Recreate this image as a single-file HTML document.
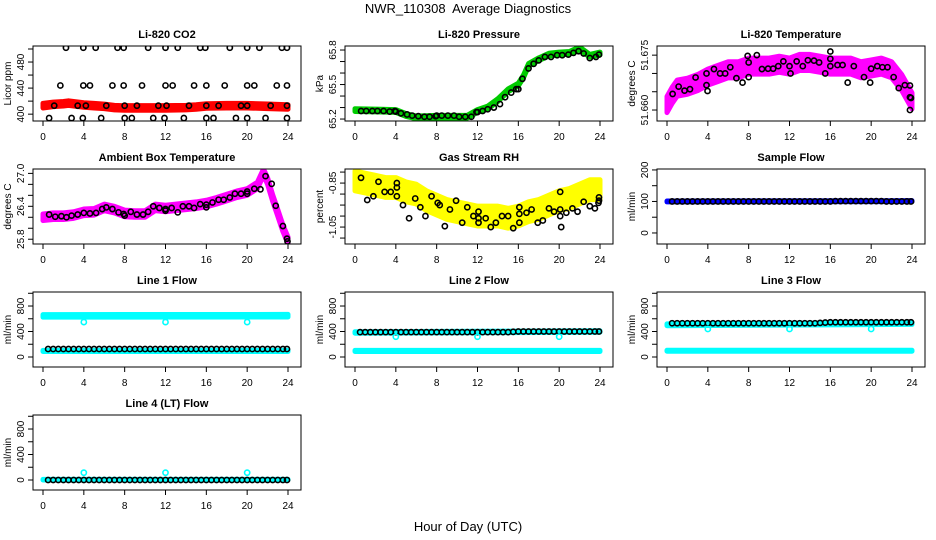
<!DOCTYPE html>
<html><head><meta charset="utf-8"><style>
html,body{margin:0;padding:0;background:#fff;}
svg{display:block;font-family:"Liberation Sans",Arial,sans-serif;}
</style></head><body>
<svg id="chart" width="936" height="540" viewBox="0 0 936 540">
<rect width="936" height="540" fill="#fff"/>
<text x="468" y="13" font-size="13" text-anchor="middle">NWR_110308&#160; Average Diagnostics</text>
<text x="468" y="531" font-size="13" text-anchor="middle">Hour of Day (UTC)</text>
</svg>
<script>
// ---------- data ----------
const co2BandHours=[0,1,2,2.5,3,4,5,6,7,8,10,12,14,15,16,18,20,22,24];
const co2BandVals=[413,415,416,417,416,414,413,412,410,409.5,409.5,409.5,410,411,412.5,413,413,412,411];
const co2PtHours=[2.25,3.95,5.16,7.3,7.9,10.3,12.0,13.2,15.4,15.9,18.3,20.0,21.2,23.4,23.9,
 1.7,3.95,4.6,6.8,7.9,9.7,12.0,12.7,14.8,16.0,17.8,20.0,20.7,22.9,23.9,
 1.1,3.4,4.2,6.2,8.0,9.2,11.3,12.1,14.3,16.0,17.2,19.4,20.0,22.3,23.9,
 0.6,2.8,3.9,5.7,8.0,8.7,10.8,11.9,13.8,16.0,16.7,18.9,20.0,21.8,23.9];
const co2PtVals=[502,502,502,502,502,502,502,502,502,502,502,502,502,502,502,
 444,444,444,444,444,444,444,444,444,444,444,444,444,444,444,
 413,413,413,413,413,413,413,413,413,413,413,413,413,413,413,
 394,394,394,394,394,394,394,394,394,394,394,394,394,394,394];

const presBandHours=[0,4,5,6,8,11,12,13,14,15,16,16.5,17,18,19,20,21,22,23,24];
const presBandVals=[65.278,65.27,65.235,65.215,65.22,65.22,65.27,65.3,65.365,65.45,65.5,65.57,65.67,65.72,65.76,65.77,65.775,65.815,65.75,65.77];
const presPtHours=[0.6,1.1,1.7,2.2,2.8,3.4,3.9,4.0,4.5,5.1,5.6,6.2,6.8,7.3,7.9,8.0,8.5,9.1,9.7,10.2,10.8,11.4,11.9,12.0,12.5,13,13.6,14.2,14.7,15.3,15.8,16,16.4,17,17.5,18,18.6,19.2,19.8,20.3,20.9,21.4,21.9,22.4,23,23.6,23.9];
const presPtVals=[65.27,65.27,65.27,65.27,65.27,65.265,65.27,65.265,65.25,65.24,65.23,65.225,65.22,65.22,65.225,65.23,65.23,65.23,65.23,65.22,65.22,65.22,65.26,65.26,65.27,65.285,65.3,65.33,65.39,65.43,65.46,65.46,65.55,65.64,65.68,65.71,65.74,65.74,65.755,65.755,65.76,65.775,65.79,65.77,65.73,65.74,65.76];

const tempBandHours=[0,0.5,1,2,3,4,5,6,7,8,9,10,11,12,13,14,15,16,17,18,19,20,21,22,23,23.5,24];
const tempBandVals=[51.6615,51.664,51.666,51.6665,51.6675,51.669,51.670,51.671,51.671,51.672,51.672,51.672,51.6725,51.672,51.673,51.673,51.6725,51.672,51.672,51.672,51.671,51.6715,51.672,51.671,51.6675,51.665,51.6625];
const tempPtHours=[0.55,1.14,1.72,2.25,2.8,3.87,3.87,3.97,4.6,5.2,5.7,6.2,6.8,7.4,7.9,8,8,8.8,9.3,9.9,10.4,10.9,11.4,12,12.1,12.7,13.3,13.8,14.4,14.9,15.5,16,16,16,16.7,17.2,17.7,18.3,19.3,19.9,20,20.6,21.1,21.6,22.2,22.7,23.3,23.8,23.8,23.9,23.8];
const tempPtVals=[51.6644,51.6664,51.6653,51.6657,51.6689,51.670,51.6668,51.6652,51.6712,51.670,51.670,51.6717,51.6687,51.6675,51.6748,51.673,51.669,51.675,51.6712,51.6713,51.6713,51.672,51.6733,51.672,51.670,51.6733,51.672,51.6736,51.6735,51.673,51.670,51.676,51.674,51.672,51.6723,51.6723,51.6675,51.672,51.669,51.6675,51.6713,51.672,51.6717,51.6717,51.669,51.666,51.6668,51.6667,51.6635,51.6633,51.660];

const ambBandHours=[0,1,2,3,4,5,6,7,8,9,10,11,12,13,14,15,16,17,18,19,20,21,21.6,22,22.5,23,23.5,24];
const ambBandVals=[26.2,26.22,26.22,26.24,26.29,26.3,26.38,26.34,26.27,26.26,26.26,26.38,26.36,26.38,26.4,26.42,26.45,26.5,26.56,26.62,26.66,26.78,27.02,26.86,26.55,26.28,26.0,25.78];
const ambPtHours=[0.6,1.2,1.8,2.3,2.8,3.4,4.0,4.6,5.2,5.8,6.2,6.8,7.4,7.9,8.0,8.6,9.2,9.8,10.3,10.8,11.4,12,12,12.6,13.2,13.7,14.3,14.8,15.4,16,16,16.6,17.2,17.7,18.3,18.8,19.4,20,20,20.7,21.3,21.8,22.4,22.8,23.5,23.9,23.95];
const ambPtVals=[26.25,26.21,26.22,26.2,26.23,26.25,26.28,26.27,26.28,26.35,26.38,26.35,26.29,26.26,26.23,26.3,26.25,26.25,26.3,26.4,26.37,26.35,26.32,26.37,26.29,26.4,26.4,26.37,26.44,26.43,26.38,26.47,26.52,26.52,26.56,26.63,26.63,26.63,26.67,26.72,26.71,26.95,26.81,26.41,26.04,25.81,25.76];

const rhBandHours=[0,1,2,3,4,5,6,7,8,9,10,11,12,13,14,15,16,17,18,19,20,21,22,23,24];
const rhBandVals=[-0.84,-0.85,-0.86,-0.87,-0.87,-0.89,-0.90,-0.93,-0.95,-0.97,-0.98,-0.99,-1.00,-1.00,-1.00,-1.01,-1.00,-0.98,-0.97,-0.95,-0.93,-0.92,-0.90,-0.88,-0.88];
const rhPtHours=[0.59,1.2,1.8,2.3,2.9,3.5,4.1,4.1,4.1,4.7,5.3,5.9,6.4,6.9,7.5,8.1,8.3,8.8,9.3,9.9,10.5,11,11.6,12.1,12.1,12.1,12.8,13.3,13.8,14.4,15,15.5,16.1,16.1,16.1,16.8,17.3,17.9,18.4,19,19.5,20.1,20.1,20.1,20.2,20.7,21.3,21.8,22.4,23,23.5,23.9,23.9,23.85];
const rhPtVals=[-0.826,-0.927,-0.91,-0.844,-0.89,-0.89,-0.87,-0.85,-0.91,-0.95,-1.01,-0.92,-0.96,-1.0,-0.91,-0.94,-0.95,-1.046,-0.97,-0.93,-1.03,-0.96,-1.0,-1.01,-0.98,-1.03,-1.01,-1.05,-1.03,-1.0,-1.0,-1.055,-0.99,-1.03,-0.96,-0.985,-0.97,-1.03,-1.02,-0.965,-0.98,-0.89,-0.97,-1.0,-1.05,-0.985,-0.965,-0.98,-0.935,-0.955,-0.965,-0.915,-0.93,-0.94];

const flowPtHours=[0.5,1,1.5,2,2.5,3,3.5,4,4.5,5,5.5,6,6.5,7,7.5,8,8.5,9,9.5,10,10.5,11,11.5,12,12.5,13,13.5,14,14.5,15,15.5,16,16.5,17,17.5,18,18.5,19,19.5,20,20.5,21,21.5,22,22.5,23,23.5,23.9];
const sampleFlowVals=[100,100,100,100,100,100,100,100,100,100,100,100,100,100,100,100,100,100,100,100,100,100,100,100,100,100,100,100,100,100,100,100,101,101,101,101,101,101,101,101,101,101,100,100,100,100,100,100];
const line1FlowVals=[125,125,125,125,125,125,125,125,125,125,125,125,125,125,125,125,125,125,125,125,125,125,125,125,125,125,125,125,125,125,125,125,125,125,125,125,125,125,125,125,125,125,125,125,125,125,125,125];
const line2FlowVals=[390,390,390,390,390,390,390,390,390,390,390,390,390,390,390,390,390,390,390,390,390,390,390,390,390,390,390,390,390,390,395,400,400,400,400,400,400,400,400,400,400,400,400,400,400,400,400,400];
const line3FlowVals=[530,530,530,530,530,530,530,530,530,530,530,530,530,530,530,530,530,530,530,530,530,530,530,530,530,530,530,530,530,535,540,545,545,545,545,545,545,545,545,545,545,545,545,545,545,545,545,545];
const line4FlowVals=[0,0,0,0,0,0,0,0,0,0,0,0,0,0,0,0,0,0,0,0,0,0,0,0,0,0,0,0,0,0,0,0,0,0,0,0,0,0,0,0,0,0,0,0,0,0,0,0];
const outlierHours=[4,12,20];
const line1Outliers=[548,548,548];
const line2Outliers=[318,318,318];
const line3Outliers=[440,440,440];
const line4Outliers=[115,115,115];
const flatHours=[0,24];
const sampleBand=[100,101];
const line1Upper=[645,648], line1Lower=[95,95];
const line2Upper=[385,400], line2Lower=[95,95];
const line3Upper=[505,525], line3Lower=[98,98];
const line4Band=[5,5];
const xTicks=[0,4,8,12,16,20,24];

// ---------- rendering ----------
const NS='http://www.w3.org/2000/svg';
const svg=document.getElementById('chart');
const colLeft=[33,345,657], rowTop=[46,169,292,415], W=268, H=75;
function mk(tag,attrs,parent){const e=document.createElementNS(NS,tag);for(const k in attrs)e.setAttribute(k,attrs[k]);(parent||svg).appendChild(e);return e;}
function ticksFrom(a,b,s){const r=[];for(let v=a;v<=b+s/1000;v+=s)r.push(+v.toFixed(6));return r;}

const panels=[
 {c:0,r:0,name:'co2',title:'Li-820 CO2',ylab:'Licor ppm',ymin:389.5,ymax:504.6,ticks:ticksFrom(400,500,20),labels:['400','440','480'],
  bands:[{h:co2BandHours,v:co2BandVals,half:3.5,col:'#ff0000'}],pts:[{h:co2PtHours,v:co2PtVals,col:'#000'}]},
 {c:1,r:0,name:'pressure',title:'Li-820 Pressure',ylab:'kPa',ymin:65.183,ymax:65.835,ticks:ticksFrom(65.2,65.8,0.1),labels:['65.2','65.5','65.8'],
  bands:[{h:presBandHours,v:presBandVals,half:0.012,col:'#00cc00'}],pts:[{h:presPtHours,v:presPtVals,col:'#000'}]},
 {c:2,r:0,name:'temperature',title:'Li-820 Temperature',ylab:'degrees C',ymin:51.657,ymax:51.6775,ticks:ticksFrom(51.66,51.675,0.005),labels:['51.660','51.675'],
  bands:[{h:tempBandHours,v:tempBandVals,half:0.0022,col:'#ff00ff'}],pts:[{h:tempPtHours,v:tempPtVals,col:'#000'}]},
 {c:0,r:1,name:'ambient-temp',title:'Ambient Box Temperature',ylab:'degrees C',ymin:25.713,ymax:27.08,ticks:ticksFrom(25.8,27.0,0.2),labels:['25.8','26.4','27.0'],
  bands:[{h:ambBandHours,v:ambBandVals,half:0.06,col:'#ff00ff'}],pts:[{h:ambPtHours,v:ambPtVals,col:'#000'}]},
 {c:1,r:1,name:'gas-rh',title:'Gas Stream RH',ylab:'percent',ymin:-1.127,ymax:-0.786,ticks:ticksFrom(-1.1,-0.8,0.05),labels:['-0.85','-1.05'],
  bands:[{h:rhBandHours,v:rhBandVals,half:0.045,col:'#ffff00'}],pts:[{h:rhPtHours,v:rhPtVals,col:'#000'}]},
 {c:2,r:1,name:'sample-flow',title:'Sample Flow',ylab:'ml/min',ymin:-35,ymax:203,ticks:ticksFrom(0,200,50),labels:['0','100','200'],
  bands:[{h:flatHours,v:sampleBand,half:1.5,col:'#0000ff'}],pts:[{h:flowPtHours,v:sampleFlowVals,col:'#000'}]},
 {c:0,r:2,name:'line1-flow',title:'Line 1 Flow',ylab:'ml/min',ymin:-157,ymax:1020,ticks:ticksFrom(0,1000,200),labels:['0','400','800'],
  bands:[{h:flatHours,v:line1Upper,half:20,col:'#00ffff'},{h:flatHours,v:line1Lower,half:8,col:'#00ffff'}],
  pts:[{h:flowPtHours,v:line1FlowVals,col:'#000'},{h:outlierHours,v:line1Outliers,col:'#00ffff'}]},
 {c:1,r:2,name:'line2-flow',title:'Line 2 Flow',ylab:'ml/min',ymin:-157,ymax:1020,ticks:ticksFrom(0,1000,200),labels:['0','400','800'],
  bands:[{h:flatHours,v:line2Upper,half:12,col:'#00ffff'},{h:flatHours,v:line2Lower,half:8,col:'#00ffff'}],
  pts:[{h:flowPtHours,v:line2FlowVals,col:'#000'},{h:outlierHours,v:line2Outliers,col:'#00ffff'}]},
 {c:2,r:2,name:'line3-flow',title:'Line 3 Flow',ylab:'ml/min',ymin:-157,ymax:1020,ticks:ticksFrom(0,1000,200),labels:['0','400','800'],
  bands:[{h:flatHours,v:line3Upper,half:14,col:'#00ffff'},{h:flatHours,v:line3Lower,half:8,col:'#00ffff'}],
  pts:[{h:flowPtHours,v:line3FlowVals,col:'#000'},{h:outlierHours,v:line3Outliers,col:'#00ffff'}]},
 {c:0,r:3,name:'line4-flow',title:'Line 4 (LT) Flow',ylab:'ml/min',ymin:-157,ymax:1020,ticks:ticksFrom(0,1000,200),labels:['0','400','800'],
  bands:[{h:flatHours,v:line4Band,half:5,col:'#00ffff'}],
  pts:[{h:flowPtHours,v:line4FlowVals,col:'#000'},{h:outlierHours,v:line4Outliers,col:'#00ffff'}]}
];

panels.forEach(p=>{
  const L=colLeft[p.c], T=rowTop[p.r];
  const xs=h=>L+10+h/24*245;
  const ys=v=>T+H-(v-p.ymin)/(p.ymax-p.ymin)*H;
  const g=mk('g',{});
  
  
  const cp=mk('clipPath',{id:'cp-'+p.name},g);
  mk('rect',{x:L,y:T,width:W,height:H},cp);
  const t=mk('text',{x:L+W/2,y:T-8,'font-size':11,'font-weight':'bold','text-anchor':'middle'},g);
  t.textContent=p.title;
  
  
  const yl=mk('text',{x:0,y:0,'font-size':10,'text-anchor':'middle',transform:`translate(${L-22},${T+H/2}) rotate(-90)`},g);
  yl.textContent=p.ylab;
  
  
  const plot=mk('g',{'clip-path':`url(#cp-${p.name})`},g);
  p.bands.forEach(b=>{
    let up=[],dn=[];
    for(let i=0;i<b.h.length;i++){up.push(xs(b.h[i])+','+ys(b.v[i]+b.half));dn.unshift(xs(b.h[i])+','+ys(b.v[i]-b.half));}
    const poly=mk('polygon',{points:up.concat(dn).join(' '),fill:b.col,stroke:b.col,'stroke-width':5,'stroke-linejoin':'round'},plot);
    
    
  });
  p.pts.forEach(s=>{
    for(let i=0;i<s.h.length;i++){
      const c=mk('circle',{cx:xs(s.h[i]),cy:ys(s.v[i]),r:2.6,fill:'none',stroke:s.col,'stroke-width':1.6},plot);
      
      
    }
  });
  const box=mk('rect',{x:L,y:T,width:W,height:H,fill:'none',stroke:'#000','stroke-width':1},g);
  
  
  xTicks.forEach(h=>{
    mk('line',{x1:xs(h),x2:xs(h),y1:T+H,y2:T+H+5,stroke:'#000'},g);
    const tl=mk('text',{x:xs(h),y:T+H+19,'font-size':10,'text-anchor':'middle'},g);
    tl.textContent=String(h);
    
    
  });
  p.ticks.forEach(v=>{mk('line',{x1:L-5,x2:L,y1:ys(v),y2:ys(v),stroke:'#000'},g);});
  p.labels.forEach(lab=>{
    const v=parseFloat(lab);
    const tl=mk('text',{x:0,y:0,'font-size':10,'text-anchor':'middle',transform:`translate(${L-9},${ys(v)}) rotate(-90)`},g);
    tl.textContent=lab;
    
    
  });
});
</script>
</body></html>
